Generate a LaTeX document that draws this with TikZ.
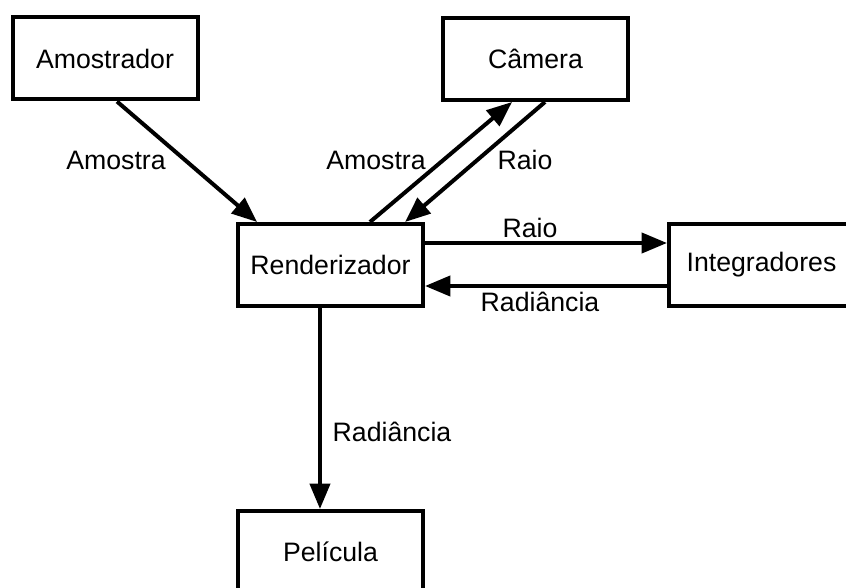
\documentclass[tikz,border=0pt]{standalone}
\usepackage{fontspec}
\setmainfont{Liberation Sans}
\usetikzlibrary{arrows.meta}

\tikzset{
    bloco/.style={draw, line width=3pt, minimum width=138.75pt, minimum height=61.5pt,
        inner sep=0pt, font=\fontsize{20}{23}\selectfont},
    seta/.style={line width=3pt, -{Triangle[length=19pt,width=15pt]}},
    rotulo/.style={inner sep=0pt, font=\fontsize{20}{23}\selectfont}
}

\begin{document}
\begin{tikzpicture}[x=0.75pt, y=-0.75pt]
    \useasboundingbox (0,0) rectangle (846,588);

    % Blocos
    \node[bloco] (amostrador) at (105,58.5) {Amostrador};
    \node[bloco] (camera) at (535.5,59) {Câmera};
    \node[bloco] (render) at (330.5,265) {Renderizador};
    \node[bloco] (integ) at (761.5,265) {Integradores};
    \node[bloco] (pelicula) at (330.5,552) {Película};

    % Amostrador -> Renderizador
    \draw[seta] ([xshift=9pt]amostrador.south) -- ([xshift=-55.1pt]render.north);
    \node[rotulo] (lblamostra) at (116,160) {Amostra};

    % Camera
    \draw[seta] ([xshift=29.6pt]render.north) -- ([xshift=-17.6pt]camera.south);
    \draw[seta] ([xshift=7.1pt]camera.south) -- ([xshift=55.9pt]render.north);
    \node[rotulo] (lblamostracam) at (376,160) {Amostra};
    \node[rotulo] (lblraiocam) at (525,160) {Raio};

    % Integradores
    \draw[seta] ([yshift=16.5pt]render.east) -- ([yshift=16.5pt]integ.west);
    \draw[seta] ([yshift=-15.75pt]integ.west) -- ([yshift=-15.75pt]render.east);
    \node[rotulo] (lblraio) at (530,228) {Raio};
    \node[rotulo] (lblradint) at (540,302) {Radiância};

    % Pelicula
    \draw[seta] ([xshift=-7.9pt]render.south) -- ([xshift=-7.9pt]pelicula.north);
    \node[rotulo] (lblradpel) at (392,432) {Radiância};
\end{tikzpicture}
\end{document}
